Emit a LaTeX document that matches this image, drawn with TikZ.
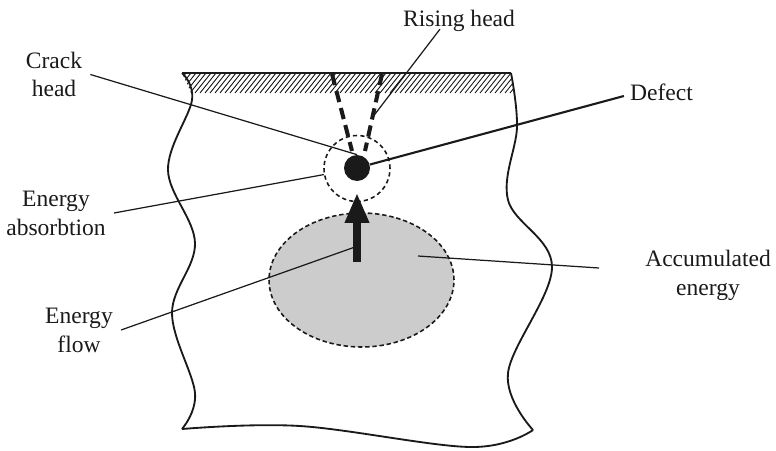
\documentclass[tikz,border=0pt]{standalone}
\usepackage{fontspec}
\setmainfont{Liberation Serif}
\usetikzlibrary{arrows.meta, shapes.geometric}
\definecolor{ink}{HTML}{1A1A1A}
\definecolor{poolgray}{HTML}{CCCCCC}

\begin{document}
\begin{tikzpicture}[
    x=0.02cm, y=-0.02cm,
    lbl/.style={ink, align=center, font=\fontsize{13.4}{16.4}\selectfont, inner sep=4.5pt},
    leader/.style={ink, line width=0.7pt},
    defectline/.style={ink, line width=1.2pt},
    body/.style={ink, line width=1.05pt},
    surface/.style={ink, line width=1.6pt},
    hatchline/.style={ink, line width=0.5pt},
    crackline/.style={ink, line width=2.3pt, dash pattern=on 6.5pt off 3.5pt},
    halo/.style={circle, draw=ink, line width=0.9pt, dash pattern=on 2.4pt off 1.8pt,
        minimum size=1.32cm, inner sep=0pt},
    defectdot/.style={circle, fill=ink, minimum size=0.52cm, inner sep=0pt},
    poolshape/.style={ellipse, draw=ink, fill=poolgray, line width=0.9pt,
        dash pattern=on 2.5pt off 1.6pt, minimum width=3.7cm, minimum height=2.68cm, inner sep=0pt},
    flowarrow/.style={ink, line width=4pt, -{Triangle[length=17pt, width=13pt]}},
]
\useasboundingbox (0,0) rectangle (776,450);

% =============================================
% ACCUMULATED ENERGY – grey zone
% =============================================
\node[poolshape] (pool) at (361.5,280) {};

% =============================================
% BODY – hatched surface and wavy cut edges
% =============================================
\begin{scope}
  \clip (182,73) -- (511,73) -- (515,93) -- (191,93) -- cycle;
  \foreach \x in {165,170,...,520}
    \draw[hatchline] (\x,93) -- ++(16,-20);
\end{scope}
% Left edge
\draw[body] plot[smooth, tension=0.6] coordinates
  {(182,73) (192,100) (168,170) (195,243) (172,313) (195,393) (182,429)};
% Right edge
\draw[body] plot[smooth, tension=0.6] coordinates
  {(511,73) (517,127) (508,200) (552,267) (508,373) (533,430)};
% Bottom edge
\draw[body] plot[smooth, tension=0.6] coordinates
  {(182,429) (300,426) (470,447) (533,430)};
% Surface
\draw[surface] (182,73) -- (511,73);

% =============================================
% CRACK – rising head, absorption zone, defect
% =============================================
\coordinate (lctop) at (332,74);
\coordinate (lcbot) at (352,151);
\coordinate (rctop) at (382,74);
\coordinate (rcbot) at (365,151);
\draw[crackline] (lctop) -- (lcbot);
\draw[crackline] (rctop) -- (rcbot);
\coordinate (risept) at (372,118);

\node[halo] (halo) at (357,168.5) {};
\node[defectdot] (dot) at (357,168) {};

% Energy flow arrow
\coordinate (flowtail) at (357,262);
\coordinate (flowtip) at (357,193);
\draw[flowarrow] (flowtail) -- (flowtip);
\coordinate (flowpt) at (355,247);
\coordinate (accpt) at (418,256);

% =============================================
% LABELS
% =============================================
\node[lbl] (rising) at (459,20.5) {Rising head};
\node[lbl] (crack) at (54,74.5) {Crack\\head};
\node[lbl] (defect) at (661.5,92) {Defect};
\node[lbl] (absorb) at (56,213) {Energy\\absorbtion};
\node[lbl] (acc) at (708,275) {Accumulated\\energy};
\node[lbl] (flow) at (79,330) {Energy\\flow};

% Leaders
\draw[leader] (rising.base) ++(-19,3) -- (risept);
\draw[leader] (crack.east) -- (dot.north);
\draw[defectline] (defect.west) ++(2,4) -- (dot);
\draw[leader] (absorb.east) -- (halo);
\draw[leader] (acc.west) ++(-38,-7) -- (accpt);
\draw[leader] (flow.east) -- (flowpt);

\end{tikzpicture}
\end{document}
